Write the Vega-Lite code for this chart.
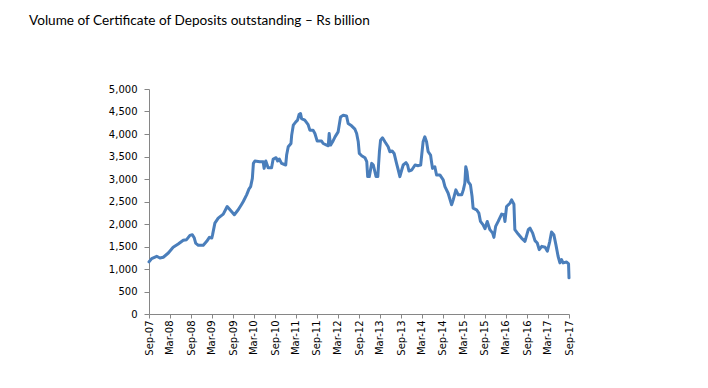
{
  "$schema": "https://vega.github.io/schema/vega-lite/v6.json",
  "width": 420,
  "height": 225,
  "autosize": {"type": "none"},
  "padding": {"left": 149, "top": 89, "right": 139, "bottom": 74},
  "background": "white",
  "title": {
    "text": "Volume of Certificate of Deposits outstanding – Rs billion",
    "anchor": "start",
    "frame": "group",
    "dx": -120,
    "offset": 45,
    "baseline": "alphabetic",
    "font": "Lato",
    "fontSize": 13.6,
    "fontWeight": "normal",
    "color": "#000000"
  },
  "config": {
    "view": {"stroke": null},
    "axis": {
      "labelFont": "DejaVu Sans",
      "labelFontSize": 10,
      "labelColor": "#000000",
      "domainColor": "#868686",
      "tickColor": "#868686",
      "domainWidth": 1,
      "tickWidth": 1,
      "grid": false,
      "title": null
    }
  },
  "data": {
    "values": [
      {"date": "2007-09-01", "value": 1157},
      {"date": "2007-09-24", "value": 1232},
      {"date": "2007-11-07", "value": 1283},
      {"date": "2007-12-05", "value": 1245},
      {"date": "2008-01-03", "value": 1261},
      {"date": "2008-02-16", "value": 1356},
      {"date": "2008-03-29", "value": 1482},
      {"date": "2008-05-12", "value": 1555},
      {"date": "2008-06-25", "value": 1637},
      {"date": "2008-07-24", "value": 1652},
      {"date": "2008-08-22", "value": 1747},
      {"date": "2008-09-12", "value": 1763},
      {"date": "2008-09-29", "value": 1688},
      {"date": "2008-10-11", "value": 1577},
      {"date": "2008-11-03", "value": 1526},
      {"date": "2008-12-16", "value": 1526},
      {"date": "2009-01-15", "value": 1615},
      {"date": "2009-02-07", "value": 1703},
      {"date": "2009-02-28", "value": 1688},
      {"date": "2009-03-07", "value": 1763},
      {"date": "2009-03-27", "value": 2020},
      {"date": "2009-04-25", "value": 2130},
      {"date": "2009-06-08", "value": 2219},
      {"date": "2009-07-12", "value": 2389},
      {"date": "2009-08-13", "value": 2294},
      {"date": "2009-09-12", "value": 2205},
      {"date": "2009-10-16", "value": 2316},
      {"date": "2009-11-15", "value": 2440},
      {"date": "2009-11-29", "value": 2500},
      {"date": "2009-12-28", "value": 2648},
      {"date": "2010-01-18", "value": 2780},
      {"date": "2010-02-01", "value": 2831},
      {"date": "2010-02-16", "value": 3015},
      {"date": "2010-02-25", "value": 3347},
      {"date": "2010-03-10", "value": 3400},
      {"date": "2010-04-22", "value": 3384},
      {"date": "2010-05-21", "value": 3384},
      {"date": "2010-05-29", "value": 3236},
      {"date": "2010-06-13", "value": 3400},
      {"date": "2010-07-03", "value": 3252},
      {"date": "2010-08-02", "value": 3252},
      {"date": "2010-08-16", "value": 3444},
      {"date": "2010-09-10", "value": 3473},
      {"date": "2010-09-24", "value": 3400},
      {"date": "2010-10-08", "value": 3444},
      {"date": "2010-10-28", "value": 3347},
      {"date": "2010-12-03", "value": 3311},
      {"date": "2010-12-11", "value": 3533},
      {"date": "2010-12-25", "value": 3716},
      {"date": "2011-01-18", "value": 3789},
      {"date": "2011-01-24", "value": 3975},
      {"date": "2011-02-07", "value": 4196},
      {"date": "2011-03-01", "value": 4269},
      {"date": "2011-03-16", "value": 4307},
      {"date": "2011-03-29", "value": 4431},
      {"date": "2011-04-11", "value": 4453},
      {"date": "2011-04-20", "value": 4342},
      {"date": "2011-05-18", "value": 4307},
      {"date": "2011-06-16", "value": 4209},
      {"date": "2011-07-01", "value": 4086},
      {"date": "2011-07-29", "value": 4086},
      {"date": "2011-08-14", "value": 4011},
      {"date": "2011-09-03", "value": 3842},
      {"date": "2011-10-11", "value": 3842},
      {"date": "2011-10-25", "value": 3789},
      {"date": "2011-11-24", "value": 3753},
      {"date": "2011-12-08", "value": 3738},
      {"date": "2011-12-16", "value": 4011},
      {"date": "2011-12-28", "value": 3753},
      {"date": "2012-01-15", "value": 3827},
      {"date": "2012-02-05", "value": 3937},
      {"date": "2012-03-03", "value": 4048},
      {"date": "2012-03-24", "value": 4380},
      {"date": "2012-04-16", "value": 4417},
      {"date": "2012-05-15", "value": 4402},
      {"date": "2012-05-29", "value": 4232},
      {"date": "2012-06-28", "value": 4181},
      {"date": "2012-07-27", "value": 4107},
      {"date": "2012-08-11", "value": 4011},
      {"date": "2012-08-25", "value": 3827},
      {"date": "2012-09-03", "value": 3568},
      {"date": "2012-09-24", "value": 3517},
      {"date": "2012-10-22", "value": 3473},
      {"date": "2012-11-07", "value": 3384},
      {"date": "2012-11-15", "value": 3053},
      {"date": "2012-11-29", "value": 3053},
      {"date": "2012-12-20", "value": 3347},
      {"date": "2013-01-03", "value": 3311},
      {"date": "2013-01-27", "value": 3053},
      {"date": "2013-02-11", "value": 3053},
      {"date": "2013-02-25", "value": 3606},
      {"date": "2013-03-07", "value": 3864},
      {"date": "2013-03-24", "value": 3915},
      {"date": "2013-04-14", "value": 3827},
      {"date": "2013-05-12", "value": 3716},
      {"date": "2013-05-27", "value": 3606},
      {"date": "2013-06-16", "value": 3621},
      {"date": "2013-07-03", "value": 3568},
      {"date": "2013-07-24", "value": 3347},
      {"date": "2013-08-08", "value": 3200},
      {"date": "2013-08-22", "value": 3053},
      {"date": "2013-09-07", "value": 3200},
      {"date": "2013-09-20", "value": 3311},
      {"date": "2013-10-14", "value": 3362},
      {"date": "2013-10-28", "value": 3311},
      {"date": "2013-11-09", "value": 3178},
      {"date": "2013-12-03", "value": 3200},
      {"date": "2014-01-01", "value": 3311},
      {"date": "2014-01-29", "value": 3296},
      {"date": "2014-02-19", "value": 3311},
      {"date": "2014-02-28", "value": 3533},
      {"date": "2014-03-12", "value": 3827},
      {"date": "2014-03-27", "value": 3937},
      {"date": "2014-04-11", "value": 3827},
      {"date": "2014-04-25", "value": 3606},
      {"date": "2014-05-16", "value": 3533},
      {"date": "2014-05-24", "value": 3384},
      {"date": "2014-06-02", "value": 3236},
      {"date": "2014-06-22", "value": 3273},
      {"date": "2014-07-07", "value": 3090},
      {"date": "2014-08-05", "value": 3090},
      {"date": "2014-09-03", "value": 2980},
      {"date": "2014-09-18", "value": 2831},
      {"date": "2014-10-16", "value": 2684},
      {"date": "2014-11-15", "value": 2426},
      {"date": "2014-11-29", "value": 2537},
      {"date": "2014-12-22", "value": 2758},
      {"date": "2015-01-12", "value": 2648},
      {"date": "2015-02-11", "value": 2648},
      {"date": "2015-02-25", "value": 2758},
      {"date": "2015-03-10", "value": 2905},
      {"date": "2015-03-18", "value": 3273},
      {"date": "2015-03-29", "value": 3163},
      {"date": "2015-04-08", "value": 2942},
      {"date": "2015-04-28", "value": 2869},
      {"date": "2015-05-12", "value": 2610},
      {"date": "2015-05-21", "value": 2351},
      {"date": "2015-06-20", "value": 2316},
      {"date": "2015-07-10", "value": 2241},
      {"date": "2015-07-24", "value": 2057},
      {"date": "2015-08-16", "value": 1982},
      {"date": "2015-09-01", "value": 1896},
      {"date": "2015-09-21", "value": 2057},
      {"date": "2015-10-14", "value": 1874},
      {"date": "2015-11-07", "value": 1798},
      {"date": "2015-11-18", "value": 1703},
      {"date": "2015-12-03", "value": 1947},
      {"date": "2015-12-25", "value": 2057},
      {"date": "2016-01-24", "value": 2219},
      {"date": "2016-02-13", "value": 2205},
      {"date": "2016-02-22", "value": 2057},
      {"date": "2016-03-07", "value": 2389},
      {"date": "2016-04-05", "value": 2462},
      {"date": "2016-04-20", "value": 2537},
      {"date": "2016-05-10", "value": 2440},
      {"date": "2016-05-18", "value": 1874},
      {"date": "2016-06-16", "value": 1776},
      {"date": "2016-07-15", "value": 1688},
      {"date": "2016-08-14", "value": 1615},
      {"date": "2016-09-12", "value": 1874},
      {"date": "2016-09-27", "value": 1909},
      {"date": "2016-10-20", "value": 1798},
      {"date": "2016-11-09", "value": 1630},
      {"date": "2016-11-29", "value": 1577},
      {"date": "2016-12-16", "value": 1431},
      {"date": "2017-01-07", "value": 1504},
      {"date": "2017-02-05", "value": 1482},
      {"date": "2017-02-25", "value": 1394},
      {"date": "2017-03-18", "value": 1615},
      {"date": "2017-04-02", "value": 1821},
      {"date": "2017-04-22", "value": 1763},
      {"date": "2017-05-10", "value": 1542},
      {"date": "2017-05-29", "value": 1283},
      {"date": "2017-06-14", "value": 1135},
      {"date": "2017-06-28", "value": 1210},
      {"date": "2017-07-12", "value": 1135},
      {"date": "2017-08-11", "value": 1157},
      {"date": "2017-08-28", "value": 1113},
      {"date": "2017-09-01", "value": 803}
    ]
  },
  "mark": {"type": "line", "color": "#4A7EBB", "strokeWidth": 3, "strokeJoin": "round", "strokeCap": "round", "clip": false},
  "encoding": {
    "x": {
      "field": "date",
      "type": "temporal",
      "scale": {
        "type": "utc",
        "domain": [
          {"year": 2007, "month": "sep", "date": 1, "utc": true},
          {"year": 2017, "month": "sep", "date": 1, "utc": true}
        ]
      },
      "axis": {
        "values": [
          {"year": 2007, "month": "sep", "date": 1, "utc": true},
          {"year": 2008, "month": "mar", "date": 1, "utc": true},
          {"year": 2008, "month": "sep", "date": 1, "utc": true},
          {"year": 2009, "month": "mar", "date": 1, "utc": true},
          {"year": 2009, "month": "sep", "date": 1, "utc": true},
          {"year": 2010, "month": "mar", "date": 1, "utc": true},
          {"year": 2010, "month": "sep", "date": 1, "utc": true},
          {"year": 2011, "month": "mar", "date": 1, "utc": true},
          {"year": 2011, "month": "sep", "date": 1, "utc": true},
          {"year": 2012, "month": "mar", "date": 1, "utc": true},
          {"year": 2012, "month": "sep", "date": 1, "utc": true},
          {"year": 2013, "month": "mar", "date": 1, "utc": true},
          {"year": 2013, "month": "sep", "date": 1, "utc": true},
          {"year": 2014, "month": "mar", "date": 1, "utc": true},
          {"year": 2014, "month": "sep", "date": 1, "utc": true},
          {"year": 2015, "month": "mar", "date": 1, "utc": true},
          {"year": 2015, "month": "sep", "date": 1, "utc": true},
          {"year": 2016, "month": "mar", "date": 1, "utc": true},
          {"year": 2016, "month": "sep", "date": 1, "utc": true},
          {"year": 2017, "month": "mar", "date": 1, "utc": true},
          {"year": 2017, "month": "sep", "date": 1, "utc": true}
        ],
        "format": "%b-%y",
        "labelAngle": -90,
        "labelAlign": "right",
        "labelBaseline": "middle",
        "tickSize": 4,
        "labelPadding": 2,
        "labelOverlap": false,
        "labelBound": false,
        "labelFlush": false
      }
    },
    "y": {
      "field": "value",
      "type": "quantitative",
      "scale": {"domain": [0, 5000], "nice": false, "zero": true},
      "axis": {
        "values": [0, 500, 1000, 1500, 2000, 2500, 3000, 3500, 4000, 4500, 5000],
        "format": ",.0f",
        "tickSize": 5,
        "labelPadding": 7
      }
    }
  }
}
